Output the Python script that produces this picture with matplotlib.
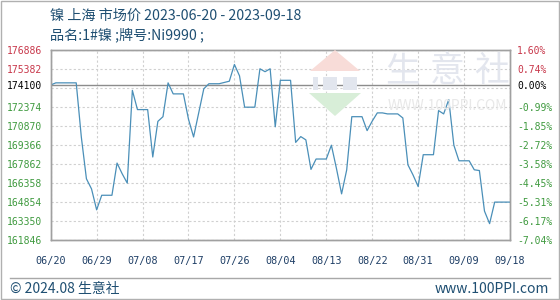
import matplotlib
matplotlib.use('Agg')
import matplotlib.pyplot as plt
from matplotlib.patches import Polygon, Rectangle
from matplotlib.lines import Line2D
import pandas as pd

plt.rcParams['font.family'] = ['Noto Sans CJK SC', 'DejaVu Sans']

# daily price (weekends / holidays carried forward), 2023-06-20 .. 2023-09-18
start_date = '2023-06-20'
end_date = '2023-09-18'
prices = [
    174100, 174270, 174270, 174270, 174270, 174270, 170000, 166700, 165900, 164250,
    165400, 165400, 165400, 167940, 167100, 166360, 173680, 172160, 172160, 172160,
    168420, 171230, 171600, 174270, 173400, 173400, 173400, 171400, 170000, 171900,
    173800, 174200, 174200, 174200, 174300, 174400, 175720, 174820, 172350, 172350,
    172350, 175380, 175150, 175380, 170800, 174470, 174470, 174470, 169570, 170030,
    169770, 167440, 168260, 168260, 168260, 169350, 167500, 165510, 167400, 171600,
    171600, 171600, 170500, 171250, 171900, 171900, 171820, 171820, 171820, 171500,
    167800, 167000, 166090, 168600, 168600, 168600, 172080, 171820, 172950, 169350,
    168120, 168120, 168120, 167410, 167350, 164150, 163160, 164860, 164860, 164860,
    164860,
]
base_price = 174100
left_ticks = [161846, 163350, 164854, 166358, 167862, 169366, 170870, 172374,
              174100, 175382, 176886]
right_labels = ['-7.04%', '-6.17%', '-5.31%', '-4.45%', '-3.58%', '-2.72%',
                '-1.85%', '-0.99%', '0.00%', '0.74%', '1.60%']
date_ticks = ['06/20', '06/29', '07/08', '07/17', '07/26', '08/04', '08/13',
              '08/22', '08/31', '09/09', '09/18']

dates = pd.date_range(start_date, end_date)
tick_dates = [pd.Timestamp('2023-' + t.replace('/', '-')) for t in date_ticks]

RED = '#c8374a'
GREEN = '#3f9a3f'
MONO = 'DejaVu Sans Mono'

fig = plt.figure(figsize=(5.6, 3.0), dpi=100)
W, H = 560.0, 300.0


def fx(px):
    return px / W


def fy(py):
    return 1 - py / H


ax = fig.add_axes([fx(50.7), fy(240.3), fx(510) - fx(50.7), fy(49.7) - fy(240.3)])

# watermark
fig.add_artist(Polygon([[fx(335), fy(50)], [fx(310), fy(71)], [fx(360), fy(71)]],
                       closed=True, transform=fig.transFigure,
                       color='#f8dcd8', zorder=0.5, lw=0))
fig.add_artist(Polygon([[fx(309), fy(93)], [fx(361), fy(93)], [fx(335), fy(116)]],
                       closed=True, transform=fig.transFigure,
                       color='#d8eed8', zorder=0.5, lw=0))
for bx, bw in [(313, 5), (323, 14), (343, 14)]:
    fig.add_artist(Rectangle((fx(bx), fy(90)), fx(bw), fy(77) - fy(90),
                             transform=fig.transFigure, color='#e2e6ee',
                             zorder=0.5, lw=0))
for cx, ch in zip([403, 447, 491], '生意社'):
    fig.text(fx(cx), fy(72), ch, fontsize=25, color='#e3e6ee',
             ha='center', va='center', zorder=0.5)
fig.text(fx(447), fy(106), 'WWW.100PPI.COM', fontsize=10, color='#e8e8e8',
         ha='center', va='center', zorder=0.5)

ax.patch.set_alpha(0)

# grid
for v in left_ticks + [173878]:
    if v != base_price:
        ax.axhline(v, color='#d0d0d0', lw=0.8, ls=(0, (2, 2)), zorder=1)
for d in tick_dates:
    ax.axvline(d, color='#d0d0d0', lw=0.8, ls=(0, (2, 2)), zorder=1)
ax.axhline(base_price, color='#8c8c8c', lw=1.0, zorder=2)

ax.plot(dates, prices, color='#4a8fb8', lw=0.9, zorder=3)

ax.set_xlim(dates[0], dates[-1])
ax.set_ylim(left_ticks[0], left_ticks[-1])

ax.set_xticks(tick_dates)
ax.set_xticklabels(date_ticks, fontsize=7.3, family=MONO, color='#1f3f66')
ax.set_yticks(left_ticks)
ax.set_yticklabels([str(v) for v in left_ticks], fontsize=7, family=MONO)
for lab, v in zip(ax.get_yticklabels(), left_ticks):
    lab.set_color(RED if v > base_price else ('black' if v == base_price else GREEN))
ax.tick_params(axis='both', length=0)
ax.tick_params(axis='x', pad=11)
ax.tick_params(axis='y', pad=6)

ax2 = ax.twinx()
ax2.set_ylim(ax.get_ylim())
ax2.set_yticks(left_ticks)
ax2.set_yticklabels(right_labels, fontsize=7, family=MONO)
for lab, v in zip(ax2.get_yticklabels(), left_ticks):
    lab.set_color(RED if v > base_price else ('black' if v == base_price else GREEN))
ax2.tick_params(axis='y', length=0, pad=5)

for a in (ax, ax2):
    for s in a.spines.values():
        s.set_color('#a0a0a0')
        s.set_linewidth(1.0)

# titles
title_color = '#1f4f72'
fig.text(fx(50), fy(16), '镍 上海 市场价 2023-06-20 - 2023-09-18', fontsize=10.2,
         color=title_color, ha='left', va='center')
fig.text(fx(50), fy(35), '品名:1#镍 ;牌号:Ni9990 ;', fontsize=10.2,
         color=title_color, ha='left', va='center')

# footer
fig.add_artist(Line2D([fx(10), fx(550)], [fy(278), fy(278)],
                      transform=fig.transFigure, color='#a8a8a8', lw=1.0))
fig.text(fx(10), fy(289), '© 2024.08 生意社', fontsize=10, color=title_color,
         ha='left', va='center')
fig.text(fx(549), fy(289), 'www.100PPI.com', fontsize=10, color=title_color,
         ha='right', va='center')

# outer border
fig.add_artist(Rectangle((0.001, 0.002), 0.997, 0.996, transform=fig.transFigure,
                         fill=False, edgecolor='#b0b0b0', lw=1.0))

fig.savefig('out.png', dpi=100)
